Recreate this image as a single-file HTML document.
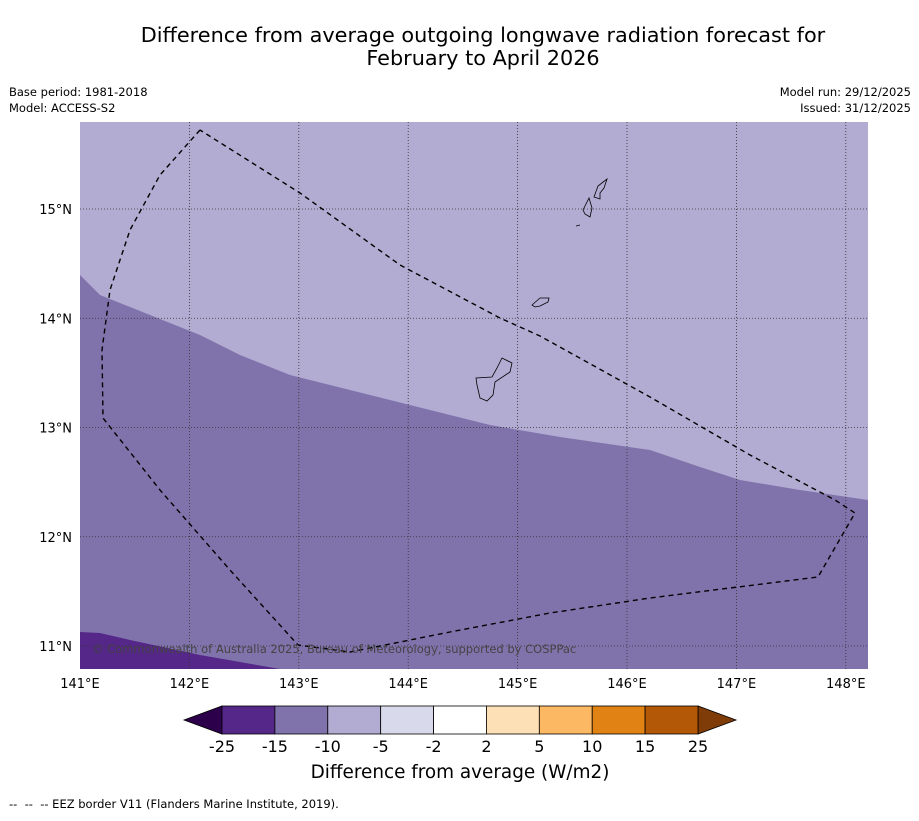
<!DOCTYPE html>
<html><head><meta charset="utf-8"><style>
body{margin:0;background:#fff;font-family:"Liberation Sans","DejaVu Sans",sans-serif;}
</style></head><body>
<svg width="919" height="816" viewBox="0 0 919 816" xmlns="http://www.w3.org/2000/svg" font-family="DejaVu Sans, Liberation Sans, sans-serif">
<text x="483" y="42" text-anchor="middle" font-size="20.8">Difference from average outgoing longwave radiation forecast for</text>
<text x="483" y="65" text-anchor="middle" font-size="20.8">February to April 2026</text>
<text x="9" y="96" font-size="11.5">Base period: 1981-2018</text>
<text x="9" y="112" font-size="11.5">Model: ACCESS-S2</text>
<text x="911" y="96" font-size="11.5" text-anchor="end">Model run: 29/12/2025</text>
<text x="911" y="112" font-size="11.5" text-anchor="end">Issued: 31/12/2025</text>
<g id="map">
<rect x="80" y="122" width="788" height="547" fill="#b2abd2"/>
<polygon points="80,275 100,295 150,315 200,335 240,355 290,375 350,390 410,405 490,425 560,437 650,450 700,467 740,480 800,490 868,500 868,669 80,669" fill="#8073ac"/>
<polygon points="80,632 100,633 130,640 200,655 280,669 80,669" fill="#542788"/>
<g id="grid" stroke="#333" stroke-width="0.8" stroke-dasharray="1,2"></g>
<polyline points="200,130 160,175 130,230 110,290 102,350 103,418 160,490 230,570 298,645 350,652 450,632 550,613 650,598 818,577 855,513 835,500 750,455 650,397 540,336 500,318 400,265 300,193 200,130" fill="none" stroke="#000" stroke-width="1.4" stroke-dasharray="5,4"/>
<g fill="none" stroke="#000" stroke-width="0.8">
<polygon points="502,358 512,363 510,372 495,382 493,395 487,401 480,398 477,385 476,378 492,377 497,368"/>
<polygon points="532,305 540,298 549,298 548,302 540,306 535,307"/>
<polygon points="583,210 589,198 592,208 590,217 585,214"/>
<polygon points="594,197 598,186 607,179 604,188 600,193 600,199"/>
<line x1="576" y1="226" x2="580" y2="225"/>
</g>
<text x="92" y="653" font-size="11.5" fill="#444">© Commonwealth of Australia 2025, Bureau of Meteorology, supported by COSPPac</text>
</g>
<g id="axes" font-size="13"></g>
<g id="cbar"></g>
<text x="460" y="778" text-anchor="middle" font-size="18.4">Difference from average (W/m2)</text>
<text x="9" y="808" font-size="11.5" xml:space="preserve" style="white-space:pre">--  --  -- EEZ border V11 (Flanders Marine Institute, 2019).</text>
</svg>
<script>
const lonTicks=[141,142,143,144,145,146,147,148];
const latTicks=[11,12,13,14,15];
const cbarLevels=["-25","-15","-10","-5","-2","2","5","10","15","25"];
const cbarColors=["#542788","#8073ac","#b2abd2","#d8daeb","#ffffff","#fee0b6","#fdb863","#e08214","#b35806"];
const NS="http://www.w3.org/2000/svg";
const xOf=lon=>80+(lon-141)*109.4;
const yOf=lat=>646-(lat-11)*109.25;
function mk(tag,attrs,parent){const e=document.createElementNS(NS,tag);for(const k in attrs)e.setAttribute(k,attrs[k]);parent.appendChild(e);return e;}
const grid=document.getElementById('grid'),axes=document.getElementById('axes'),cb=document.getElementById('cbar');
lonTicks.forEach(l=>{const x=xOf(l);
 if(x>81){const g=mk('line',{x1:x,y1:122,x2:x,y2:669},grid);
 
 }
 const t=mk('text',{x:x,y:688,'text-anchor':'middle'},axes);t.textContent=l+'°E';
 
 });
latTicks.forEach(l=>{const y=yOf(l);
 const g=mk('line',{x1:80,y1:y,x2:868,y2:y},grid);
 
 
 const t=mk('text',{x:72,y:y+5,'text-anchor':'end'},axes);t.textContent=l+'°N';
 
 });
const x0=222,x1=698,w=(x1-x0)/cbarColors.length,yt=706,yb=734;
const lt=mk('polygon',{points:`184,720 ${x0},${yt} ${x0},${yb}`,fill:'#2d004b',stroke:'#000','stroke-width':0.8},cb);


const rt=mk('polygon',{points:`736,720 ${x1},${yt} ${x1},${yb}`,fill:'#7f3b08',stroke:'#000','stroke-width':0.8},cb);


cbarColors.forEach((c,i)=>{const r=mk('rect',{x:x0+i*w,y:yt,width:w,height:yb-yt,fill:c,stroke:'#000','stroke-width':0.8},cb);
 
 });
cbarLevels.forEach((s,i)=>{const t=mk('text',{x:x0+i*w,y:752,'text-anchor':'middle','font-size':16},cb);t.textContent=s;
 
 });
</script>
</body></html>
